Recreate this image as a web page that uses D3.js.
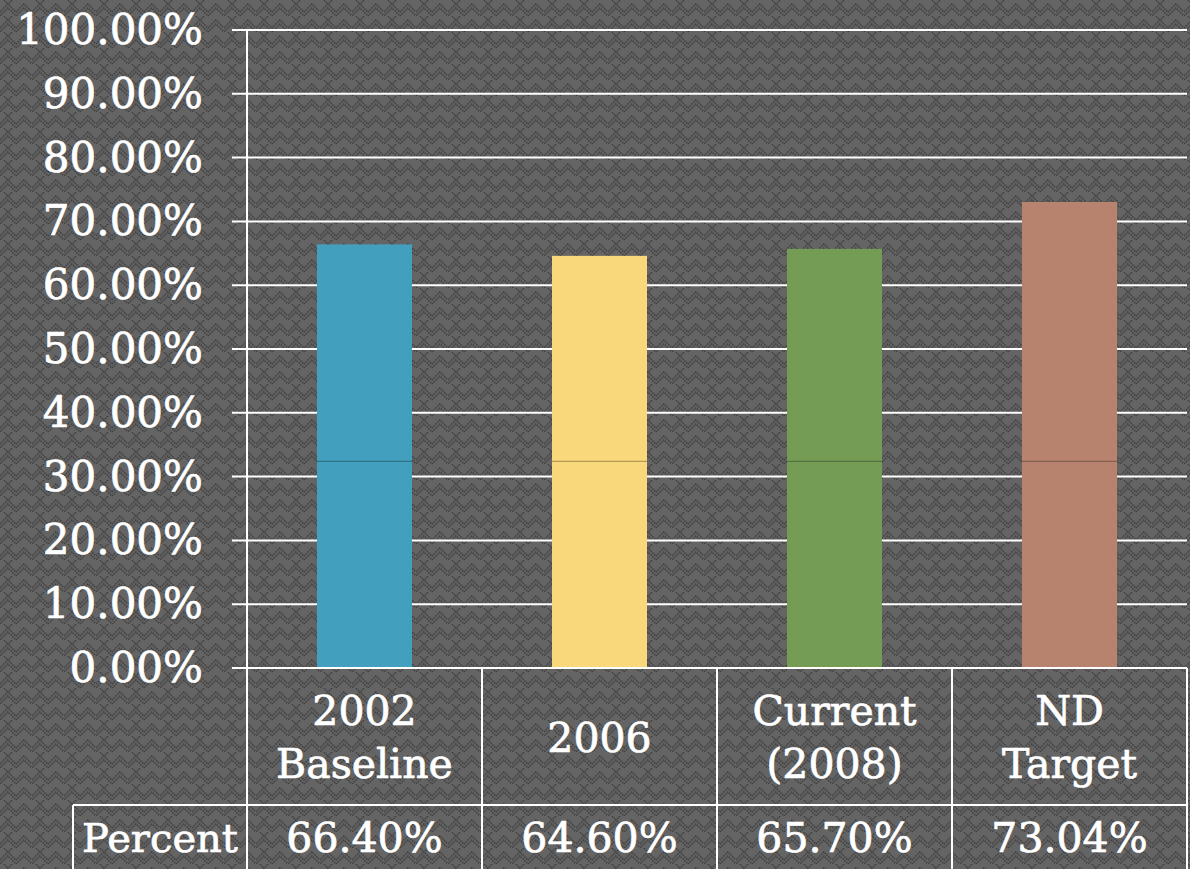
<!DOCTYPE html>
<html>
<head>
<meta charset="utf-8">
<script src="https://cdn.jsdelivr.net/npm/d3@7"></script>
<style>
  html, body { margin: 0; padding: 0; background: #606060; }
  svg { display: block; }
</style>
</head>
<body>
<div id="chart"></div>
<script>
// data
var categories = [["2002", "Baseline"], ["2006"], ["Current", "(2008)"], ["ND", "Target"]];
var values = [0.664, 0.646, 0.657, 0.7304];
var valueLabels = ["66.40%", "64.60%", "65.70%", "73.04%"];
var colors = ["#429fbd", "#f9d77b", "#759c55", "#b7836f"];
var yTicks = [0, 0.1, 0.2, 0.3, 0.4, 0.5, 0.6, 0.7, 0.8, 0.9, 1.0];
var rowLabel = "Percent";

var width = 1190, height = 869;
var plotLeft = 247, plotRight = 1187, plotTop = 30, plotBottom = 668;
var row1 = 805;

var svg = d3.select("#chart").append("svg")
  .attr("width", width)
  .attr("height", height);

// patterned grey background
var defs = svg.append("defs");
var pat = defs.append("pattern")
  .attr("id", "bg")
  .attr("width", 32).attr("height", 16)
  .attr("patternUnits", "userSpaceOnUse");
pat.append("rect").attr("width", 32).attr("height", 16).attr("fill", "#646464");
pat.append("path")
  .attr("d", "M0,12 L8,4 L16,12 L24,4 L32,12 M0,16 L8,8 L16,16 L24,8 L32,16 M4,0 L8,4 M12,0 L8,4")
  .attr("fill", "none")
  .attr("stroke", "#404040")
  .attr("stroke-width", 1.6)
  .attr("stroke-dasharray", "1.5,1");
svg.append("rect").attr("width", width).attr("height", height).attr("fill", "url(#bg)");

var x = d3.scaleBand()
  .domain(d3.range(values.length))
  .range([plotLeft, plotRight])
  .paddingInner(0)
  .paddingOuter(0);

var y = d3.scaleLinear().domain([0, 1]).range([plotBottom, plotTop]);

var font = "'DejaVu Serif', serif";

// gridlines
svg.append("g").selectAll("line")
  .data(yTicks)
  .enter().append("line")
  .attr("x1", plotLeft - 15).attr("x2", plotRight)
  .attr("y1", function(d) { return y(d); })
  .attr("y2", function(d) { return y(d); })
  .attr("stroke", "#ffffff")
  .attr("stroke-width", 2);

// y axis line
svg.append("line")
  .attr("x1", plotLeft).attr("x2", plotLeft)
  .attr("y1", plotTop).attr("y2", plotBottom)
  .attr("stroke", "#ffffff").attr("stroke-width", 2);

// tick labels
svg.append("g").selectAll("text")
  .data(yTicks)
  .enter().append("text")
  .attr("x", 203)
  .attr("y", function(d) { return y(d) + 14; })
  .attr("text-anchor", "end")
  .attr("fill", "#ffffff")
  .attr("stroke", "#ffffff").attr("stroke-width", 0.7)
  .style("font-family", font)
  .style("font-size", "42px")
  .text(function(d) { return d3.format(".2%")(d); });

// bars
var bw = 95;
svg.append("g").selectAll("rect")
  .data(values)
  .enter().append("rect")
  .attr("x", function(d, i) { return x(i) + x.bandwidth() / 2 - bw / 2; })
  .attr("y", function(d) { return y(d); })
  .attr("width", bw)
  .attr("height", function(d) { return y(0) - y(d); })
  .attr("fill", function(d, i) { return colors[i]; });

// faint seam across bars
svg.append("g").selectAll("line")
  .data(values)
  .enter().append("line")
  .attr("x1", function(d, i) { return x(i) + x.bandwidth() / 2 - bw / 2; })
  .attr("x2", function(d, i) { return x(i) + x.bandwidth() / 2 + bw / 2; })
  .attr("y1", y(0.324)).attr("y2", y(0.324))
  .attr("stroke", "#000000").attr("stroke-opacity", 0.35).attr("stroke-width", 1);

// data table
var tbl = svg.append("g").attr("stroke", "#ffffff").attr("stroke-width", 2);
tbl.append("line").attr("x1", plotLeft - 15).attr("x2", plotRight).attr("y1", plotBottom).attr("y2", plotBottom);
tbl.append("line").attr("x1", 73).attr("x2", plotRight).attr("y1", row1).attr("y2", row1);
tbl.append("line").attr("x1", 73).attr("x2", 73).attr("y1", row1).attr("y2", height);
tbl.selectAll("line.v")
  .data(d3.range(values.length + 1))
  .enter().append("line")
  .attr("class", "v")
  .attr("x1", function(i) { return plotLeft + i * x.bandwidth(); })
  .attr("x2", function(i) { return plotLeft + i * x.bandwidth(); })
  .attr("y1", plotBottom).attr("y2", height);

// category labels
var cat = svg.append("g").selectAll("text")
  .data(categories)
  .enter().append("text")
  .attr("text-anchor", "middle")
  .attr("fill", "#ffffff")
  .attr("stroke", "#ffffff").attr("stroke-width", 0.7)
  .style("font-family", font)
  .style("font-size", "41px");
cat.each(function(lines, i) {
  var t = d3.select(this);
  var cx = x(i) + x.bandwidth() / 2;
  var startY = lines.length === 1 ? 752 : 725;
  lines.forEach(function(s, j) {
    t.append("tspan").attr("x", cx).attr("y", startY + j * 53).text(s);
  });
});

// value row
svg.append("g").selectAll("text")
  .data(valueLabels)
  .enter().append("text")
  .attr("x", function(d, i) { return x(i) + x.bandwidth() / 2; })
  .attr("y", 852)
  .attr("text-anchor", "middle")
  .attr("fill", "#ffffff")
  .attr("stroke", "#ffffff").attr("stroke-width", 0.7)
  .style("font-family", font)
  .style("font-size", "41px")
  .text(function(d) { return d; });

svg.append("text")
  .attr("x", (73 + plotLeft) / 2)
  .attr("y", 852)
  .attr("text-anchor", "middle")
  .attr("fill", "#ffffff")
  .attr("stroke", "#ffffff").attr("stroke-width", 0.7)
  .style("font-family", font)
  .style("font-size", "40px")
  .text(rowLabel);
</script>
</body>
</html>
